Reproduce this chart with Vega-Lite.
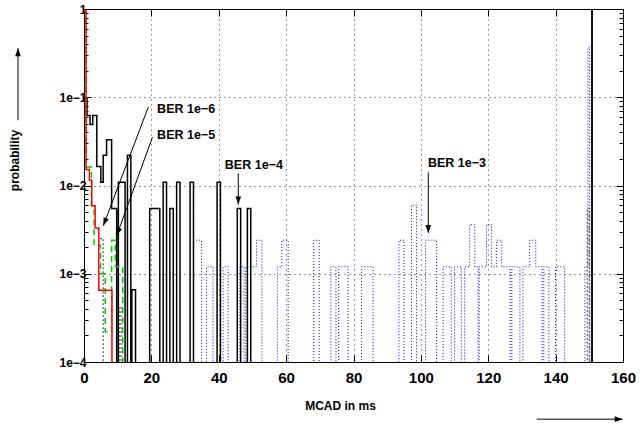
{
  "$schema": "https://vega.github.io/schema/vega-lite/v6.json",
  "width": 539,
  "height": 353,
  "autosize": {"type": "none"},
  "padding": {"left": 84, "top": 9, "right": 19, "bottom": 66},
  "background": "white",
  "config": {
    "font": "Liberation Sans",
    "view": {"stroke": "#000", "strokeWidth": 1},
    "axis": {"domainColor": "#000", "tickColor": "#000", "labelColor": "#000", "titleColor": "#000", "labelFont": "Liberation Sans", "titleFont": "Liberation Sans", "labelFontWeight": "bold", "titleFontWeight": "bold"}
  },
  "datasets": {
    "hist": [
      {"s": "1e-3", "x": 33.3, "p": 0.0024}, {"s": "1e-3", "x": 34.9, "p": 0.00001},
      {"s": "1e-3", "x": 36.4, "p": 0.0012}, {"s": "1e-3", "x": 38.3, "p": 0.00001},
      {"s": "1e-3", "x": 41.3, "p": 0.0012}, {"s": "1e-3", "x": 42.8, "p": 0.00001},
      {"s": "1e-3", "x": 46.3, "p": 0.0012}, {"s": "1e-3", "x": 47.5, "p": 0.00001},
      {"s": "1e-3", "x": 48.0, "p": 0.0012}, {"s": "1e-3", "x": 51.2, "p": 0.0024}, {"s": "1e-3", "x": 52.8, "p": 0.00001},
      {"s": "1e-3", "x": 57.4, "p": 0.0012}, {"s": "1e-3", "x": 58.7, "p": 0.0024}, {"s": "1e-3", "x": 60.6, "p": 0.00001},
      {"s": "1e-3", "x": 68.2, "p": 0.0024}, {"s": "1e-3", "x": 69.8, "p": 0.00001},
      {"s": "1e-3", "x": 73.3, "p": 0.0012}, {"s": "1e-3", "x": 74.8, "p": 0.00001},
      {"s": "1e-3", "x": 75.6, "p": 0.0012}, {"s": "1e-3", "x": 78.4, "p": 0.00001},
      {"s": "1e-3", "x": 82.4, "p": 0.0012}, {"s": "1e-3", "x": 85.8, "p": 0.00001},
      {"s": "1e-3", "x": 93.5, "p": 0.0024}, {"s": "1e-3", "x": 95.0, "p": 0.00001},
      {"s": "1e-3", "x": 97.2, "p": 0.006}, {"s": "1e-3", "x": 98.7, "p": 0.00001},
      {"s": "1e-3", "x": 101.4, "p": 0.0024}, {"s": "1e-3", "x": 104.7, "p": 0.00001},
      {"s": "1e-3", "x": 106.6, "p": 0.0012}, {"s": "1e-3", "x": 109.0, "p": 0.00001},
      {"s": "1e-3", "x": 110.0, "p": 0.0012}, {"s": "1e-3", "x": 112.0, "p": 0.00001},
      {"s": "1e-3", "x": 113.0, "p": 0.0012}, {"s": "1e-3", "x": 114.5, "p": 0.0036}, {"s": "1e-3", "x": 116.0, "p": 0.0012}, {"s": "1e-3", "x": 117.0, "p": 0.00001},
      {"s": "1e-3", "x": 117.3, "p": 0.0012}, {"s": "1e-3", "x": 119.5, "p": 0.0036}, {"s": "1e-3", "x": 121.0, "p": 0.0012}, {"s": "1e-3", "x": 122.5, "p": 0.0024}, {"s": "1e-3", "x": 124.0, "p": 0.0012}, {"s": "1e-3", "x": 126.5, "p": 0.00001},
      {"s": "1e-3", "x": 127.0, "p": 0.0012}, {"s": "1e-3", "x": 129.4, "p": 0.00001},
      {"s": "1e-3", "x": 130.3, "p": 0.0012}, {"s": "1e-3", "x": 132.3, "p": 0.0024}, {"s": "1e-3", "x": 134.1, "p": 0.0012}, {"s": "1e-3", "x": 136.0, "p": 0.00001},
      {"s": "1e-3", "x": 136.5, "p": 0.0012}, {"s": "1e-3", "x": 138.0, "p": 0.00001},
      {"s": "1e-3", "x": 140.0, "p": 0.0012}, {"s": "1e-3", "x": 142.7, "p": 0.00001},
      {"s": "1e-3", "x": 148.7, "p": 0.0012}, {"s": "1e-3", "x": 149.6, "p": 0.37}, {"s": "1e-3", "x": 150.1, "p": 0.00001},

      {"s": "other", "x": 4.7, "p": 0.0025}, {"s": "other", "x": 5.7, "p": 0.00001},
      {"s": "other", "x": 10.4, "p": 0.00042}, {"s": "other", "x": 11.0, "p": 0.00001},
      {"s": "other", "x": 149.4, "p": 0.0055}, {"s": "other", "x": 150.0, "p": 0.00001},

      {"s": "1e-4", "x": -0.5, "p": 0.88}, {"s": "1e-4", "x": 0, "p": 0.097}, {"s": "1e-4", "x": 0.9, "p": 0.062},
      {"s": "1e-4", "x": 1.8, "p": 0.049}, {"s": "1e-4", "x": 2.6, "p": 0.062}, {"s": "1e-4", "x": 3.8, "p": 0.0164},
      {"s": "1e-4", "x": 5.0, "p": 0.0109}, {"s": "1e-4", "x": 5.7, "p": 0.022}, {"s": "1e-4", "x": 6.7, "p": 0.033},
      {"s": "1e-4", "x": 8.2, "p": 0.0055}, {"s": "1e-4", "x": 9.7, "p": 0.00001},
      {"s": "1e-4", "x": 10.2, "p": 0.0109}, {"s": "1e-4", "x": 12.2, "p": 0.00001},
      {"s": "1e-4", "x": 12.9, "p": 0.022}, {"s": "1e-4", "x": 13.9, "p": 0.00001},
      {"s": "1e-4", "x": 14.2, "p": 0.00066}, {"s": "1e-4", "x": 15.3, "p": 0.00001},
      {"s": "1e-4", "x": 19.5, "p": 0.0055}, {"s": "1e-4", "x": 22.5, "p": 0.00001},
      {"s": "1e-4", "x": 23.5, "p": 0.0109}, {"s": "1e-4", "x": 24.5, "p": 0.00001},
      {"s": "1e-4", "x": 25.5, "p": 0.0055}, {"s": "1e-4", "x": 26.5, "p": 0.00001},
      {"s": "1e-4", "x": 27.5, "p": 0.0109}, {"s": "1e-4", "x": 28.5, "p": 0.00001},
      {"s": "1e-4", "x": 31.5, "p": 0.0109}, {"s": "1e-4", "x": 32.5, "p": 0.00001},
      {"s": "1e-4", "x": 39.5, "p": 0.0109}, {"s": "1e-4", "x": 40.5, "p": 0.00001},
      {"s": "1e-4", "x": 45.5, "p": 0.0055}, {"s": "1e-4", "x": 46.5, "p": 0.00001},
      {"s": "1e-4", "x": 48.5, "p": 0.0055}, {"s": "1e-4", "x": 49.5, "p": 0.00001},
      {"s": "1e-4", "x": 150.75, "p": 1.0}, {"s": "1e-4", "x": 150.85, "p": 0.00001},

      {"s": "1e-5", "x": -0.5, "p": 0.95}, {"s": "1e-5", "x": 0.7, "p": 0.0162}, {"s": "1e-5", "x": 2.2, "p": 0.0059},
      {"s": "1e-5", "x": 3.0, "p": 0.0021}, {"s": "1e-5", "x": 4.9, "p": 0.001}, {"s": "1e-5", "x": 6.3, "p": 0.00022},
      {"s": "1e-5", "x": 8.2, "p": 0.0024}, {"s": "1e-5", "x": 9.3, "p": 0.0012}, {"s": "1e-5", "x": 11.5, "p": 0.00001},

      {"s": "1e-6", "x": -0.5, "p": 0.97}, {"s": "1e-6", "x": 0.6, "p": 0.0152}, {"s": "1e-6", "x": 1.6, "p": 0.0115},
      {"s": "1e-6", "x": 2.3, "p": 0.0059}, {"s": "1e-6", "x": 3.3, "p": 0.0033}, {"s": "1e-6", "x": 4.4, "p": 0.00065},
      {"s": "1e-6", "x": 8.3, "p": 0.00001}
    ],
    "notes": [
      {"label": "BER 1e−6", "tx": 21.7, "ty": 0.0731, "x1": 19.1, "y1": 0.0776, "x2": 5.73, "y2": 0.00351},
      {"label": "BER 1e−5", "tx": 21.7, "ty": 0.037, "x1": 20.3, "y1": 0.0351, "x2": 9.7, "y2": 0.0027},
      {"label": "BER 1e−4", "tx": 41.8, "ty": 0.0169, "x1": 45.8, "y1": 0.0137, "x2": 45.8, "y2": 0.00608},
      {"label": "BER 1e−3", "tx": 102.1, "ty": 0.0178, "x1": 102.2, "y1": 0.0141, "x2": 102.2, "y2": 0.0029}
    ],
    "frame": [
      {"dir": "up", "x1": -19.6, "y1": 0.0548, "x2": -19.6, "y2": 0.36},
      {"dir": "right", "x1": 134.4, "y1": 0.0000225, "x2": 159.9, "y2": 0.0000225}
    ]
  },
  "layer": [
    {
      "data": {"name": "hist"},
      "transform": [{"filter": "datum.s === '1e-3'"}],
      "mark": {"type": "line", "interpolate": "step-after", "clip": true, "color": "#0000ff", "strokeWidth": 1, "strokeDash": [1, 2]},
      "encoding": {
        "x": {"field": "x", "type": "quantitative", "scale": {"domain": [0, 160], "nice": false, "zero": false},
          "axis": {"orient": "bottom", "values": [0, 20, 40, 60, 80, 100, 120, 140, 160], "grid": true, "gridDash": [1, 4], "gridColor": "#333", "gridOpacity": 1, "tickSize": -7, "labelFontSize": 15, "labelPadding": 15, "labelFlush": false, "labelOverlap": false,
            "title": "MCAD in ms", "titleFontSize": 12, "titleX": 256, "titleY": 43, "titleBaseline": "middle", "titleAlign": "center"}},
        "y": {"field": "p", "type": "quantitative", "scale": {"type": "log", "domain": [0.0001, 1], "nice": false},
          "axis": {"orient": "left",
            "values": [0.0001, 0.0002, 0.0003, 0.0004, 0.0005, 0.0006, 0.0007, 0.0008, 0.0009, 0.001, 0.002, 0.003, 0.004, 0.005, 0.006, 0.007, 0.008, 0.009, 0.01, 0.02, 0.03, 0.04, 0.05, 0.06, 0.07, 0.08, 0.09, 0.1, 0.2, 0.3, 0.4, 0.5, 0.6, 0.7, 0.8, 0.9, 1],
            "labelExpr": "abs(log(datum.value)/LN10 - round(log(datum.value)/LN10)) < 0.001 ? (round(log(datum.value)/LN10) == 0 ? '1' : '1e−' + (-round(log(datum.value)/LN10))) : ''",
            "grid": true, "gridDash": [1, 4], "gridColor": "#333",
            "gridOpacity": {"condition": {"test": "abs(log(datum.value)/LN10 - round(log(datum.value)/LN10)) < 0.001", "value": 1}, "value": 0},
            "tickSize": {"condition": {"test": "abs(log(datum.value)/LN10 - round(log(datum.value)/LN10)) < 0.001", "value": -7}, "value": -4},
            "labelFontSize": 12, "labelPadding": 5, "labelOverlap": false, "labelFlush": false,
            "title": "probability", "titleFontSize": 12, "titleX": -70, "titleY": 151, "titleAngle": 270, "titleBaseline": "middle", "titleAlign": "center"}}
      }
    },
    {
      "data": {"name": "hist"},
      "transform": [{"filter": "datum.s === 'other'"}],
      "mark": {"type": "line", "interpolate": "step-after", "clip": true, "color": "#555555", "strokeWidth": 1.2, "strokeDash": [2, 2]},
      "encoding": {
        "x": {"field": "x", "type": "quantitative", "scale": {"domain": [0, 160], "nice": false, "zero": false},
          "axis": {"orient": "top", "values": [0, 20, 40, 60, 80, 100, 120, 140, 160], "labels": false, "grid": false, "tickSize": -7, "title": null}},
        "y": {"field": "p", "type": "quantitative", "scale": {"type": "log", "domain": [0.0001, 1], "nice": false},
          "axis": {"orient": "right",
            "values": [0.0001, 0.0002, 0.0003, 0.0004, 0.0005, 0.0006, 0.0007, 0.0008, 0.0009, 0.001, 0.002, 0.003, 0.004, 0.005, 0.006, 0.007, 0.008, 0.009, 0.01, 0.02, 0.03, 0.04, 0.05, 0.06, 0.07, 0.08, 0.09, 0.1, 0.2, 0.3, 0.4, 0.5, 0.6, 0.7, 0.8, 0.9, 1],
            "labels": false, "grid": false, "title": null,
            "tickSize": {"condition": {"test": "abs(log(datum.value)/LN10 - round(log(datum.value)/LN10)) < 0.001", "value": -7}, "value": -4}}}
      }
    },
    {
      "data": {"name": "hist"},
      "transform": [{"filter": "datum.s === '1e-4'"}],
      "mark": {"type": "line", "interpolate": "step-after", "clip": true, "color": "#000000", "strokeWidth": 1.5},
      "encoding": {
        "x": {"field": "x", "type": "quantitative", "scale": {"domain": [0, 160], "nice": false, "zero": false}, "axis": null},
        "y": {"field": "p", "type": "quantitative", "scale": {"type": "log", "domain": [0.0001, 1], "nice": false}, "axis": null}
      }
    },
    {
      "data": {"name": "hist"},
      "transform": [{"filter": "datum.s === '1e-5'"}],
      "mark": {"type": "line", "interpolate": "step-after", "clip": true, "color": "#00cc00", "strokeWidth": 1.5, "strokeDash": [6, 4]},
      "encoding": {
        "x": {"field": "x", "type": "quantitative", "scale": {"domain": [0, 160], "nice": false, "zero": false}, "axis": null},
        "y": {"field": "p", "type": "quantitative", "scale": {"type": "log", "domain": [0.0001, 1], "nice": false}, "axis": null}
      }
    },
    {
      "data": {"name": "hist"},
      "transform": [{"filter": "datum.s === '1e-6'"}],
      "mark": {"type": "line", "interpolate": "step-after", "clip": true, "color": "#ff0000", "strokeWidth": 1.5},
      "encoding": {
        "x": {"field": "x", "type": "quantitative", "scale": {"domain": [0, 160], "nice": false, "zero": false}, "axis": null},
        "y": {"field": "p", "type": "quantitative", "scale": {"type": "log", "domain": [0.0001, 1], "nice": false}, "axis": null}
      }
    },
    {
      "data": {"name": "notes"},
      "mark": {"type": "rule", "color": "#000", "strokeWidth": 1},
      "encoding": {
        "x": {"field": "x1", "type": "quantitative", "scale": {"domain": [0, 160], "nice": false, "zero": false}, "axis": null},
        "y": {"field": "y1", "type": "quantitative", "scale": {"type": "log", "domain": [0.0001, 1], "nice": false}, "axis": null},
        "x2": {"field": "x2"},
        "y2": {"field": "y2"}
      }
    },
    {
      "data": {"name": "notes"},
      "mark": {"type": "text", "align": "left", "baseline": "middle", "font": "Liberation Sans", "fontWeight": "bold", "fontSize": 12.5, "color": "#000"},
      "encoding": {
        "x": {"field": "tx", "type": "quantitative", "scale": {"domain": [0, 160], "nice": false, "zero": false}, "axis": null},
        "y": {"field": "ty", "type": "quantitative", "scale": {"type": "log", "domain": [0.0001, 1], "nice": false}, "axis": null},
        "text": {"field": "label"}
      }
    },
    {
      "data": {"name": "notes"},
      "transform": [{"filter": "datum.label === 'BER 1e−4' || datum.label === 'BER 1e−3'"}],
      "mark": {"type": "point", "shape": "M0,0L-0.35,-1L0.35,-1Z", "filled": true, "color": "#000", "opacity": 1, "size": 256, "strokeWidth": 0},
      "encoding": {
        "x": {"field": "x2", "type": "quantitative", "scale": {"domain": [0, 160], "nice": false, "zero": false}, "axis": null},
        "y": {"field": "y2", "type": "quantitative", "scale": {"type": "log", "domain": [0.0001, 1], "nice": false}, "axis": null}
      }
    },
    {
      "data": {"name": "notes"},
      "transform": [{"filter": "datum.label === 'BER 1e−6'"}],
      "mark": {"type": "point", "shape": "M0,0L-0.35,-1L0.35,-1Z", "filled": true, "color": "#000", "opacity": 1, "size": 256, "strokeWidth": 0, "angle": 21},
      "encoding": {
        "x": {"field": "x2", "type": "quantitative", "scale": {"domain": [0, 160], "nice": false, "zero": false}, "axis": null},
        "y": {"field": "y2", "type": "quantitative", "scale": {"type": "log", "domain": [0.0001, 1], "nice": false}, "axis": null}
      }
    },
    {
      "data": {"name": "notes"},
      "transform": [{"filter": "datum.label === 'BER 1e−5'"}],
      "mark": {"type": "point", "shape": "M0,0L-0.35,-1L0.35,-1Z", "filled": true, "color": "#000", "opacity": 1, "size": 256, "strokeWidth": 0, "angle": 20},
      "encoding": {
        "x": {"field": "x2", "type": "quantitative", "scale": {"domain": [0, 160], "nice": false, "zero": false}, "axis": null},
        "y": {"field": "y2", "type": "quantitative", "scale": {"type": "log", "domain": [0.0001, 1], "nice": false}, "axis": null}
      }
    },
    {
      "data": {"name": "frame"},
      "mark": {"type": "rule", "color": "#000", "strokeWidth": 1, "clip": false},
      "encoding": {
        "x": {"field": "x1", "type": "quantitative", "scale": {"domain": [0, 160], "nice": false, "zero": false}, "axis": null},
        "y": {"field": "y1", "type": "quantitative", "scale": {"type": "log", "domain": [0.0001, 1], "nice": false}, "axis": null},
        "x2": {"field": "x2"},
        "y2": {"field": "y2"}
      }
    },
    {
      "data": {"name": "frame"},
      "transform": [{"filter": "datum.dir === 'up'"}],
      "mark": {"type": "point", "shape": "M0,0L-0.35,-1L0.35,-1Z", "filled": true, "color": "#000", "opacity": 1, "size": 256, "strokeWidth": 0, "angle": 180, "clip": false},
      "encoding": {
        "x": {"field": "x2", "type": "quantitative", "scale": {"domain": [0, 160], "nice": false, "zero": false}, "axis": null},
        "y": {"field": "y2", "type": "quantitative", "scale": {"type": "log", "domain": [0.0001, 1], "nice": false}, "axis": null}
      }
    },
    {
      "data": {"name": "frame"},
      "transform": [{"filter": "datum.dir === 'right'"}],
      "mark": {"type": "point", "shape": "M0,0L-0.35,-1L0.35,-1Z", "filled": true, "color": "#000", "opacity": 1, "size": 256, "strokeWidth": 0, "angle": 270, "clip": false},
      "encoding": {
        "x": {"field": "x2", "type": "quantitative", "scale": {"domain": [0, 160], "nice": false, "zero": false}, "axis": null},
        "y": {"field": "y2", "type": "quantitative", "scale": {"type": "log", "domain": [0.0001, 1], "nice": false}, "axis": null}
      }
    }
  ],
  "resolve": {"axis": {"x": "independent", "y": "independent"}}
}
